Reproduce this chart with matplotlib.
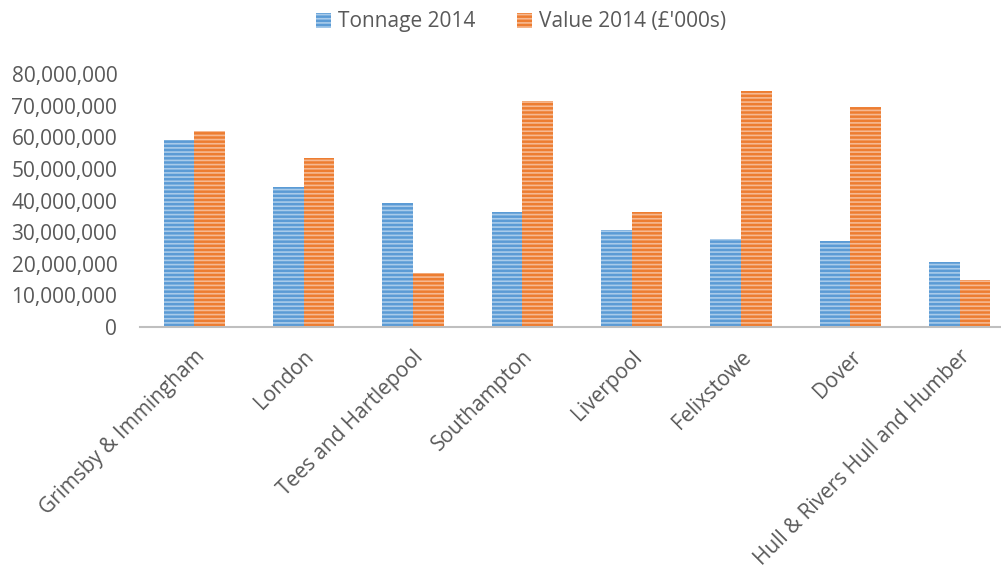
import numpy as np
import matplotlib.pyplot as plt
from matplotlib.ticker import FuncFormatter
from matplotlib.patches import Patch

ports = ['Grimsby & Immingham', 'London', 'Tees and Hartlepool', 'Southampton',
         'Liverpool', 'Felixstowe', 'Dover', 'Hull & Rivers Hull and Humber']
tonnage = [59.1e6, 44.3e6, 39.2e6, 36.4e6, 30.7e6, 27.8e6, 27.2e6, 20.6e6]
value = [62.0e6, 53.4e6, 17.1e6, 71.5e6, 36.4e6, 74.6e6, 69.6e6, 14.9e6]

plt.rcParams['font.family'] = ['Open Sans', 'DejaVu Sans']
plt.rcParams['hatch.linewidth'] = 1.2

blue = '#5B9BD5'
orange = '#ED7D31'
txt = '#595959'

fig = plt.figure(figsize=(10.01, 5.65), dpi=100)
# axes run a bit past the right edge, like the cropped excel chart
ax = fig.add_axes([139.5 / 1001, 238 / 565, 875 / 1001, 253 / 565])

x = np.arange(len(ports))
w = 0.28
ax.bar(x - w / 2, tonnage, w, color=blue, edgecolor='#A9CBEA', hatch='----', linewidth=0)
ax.bar(x + w / 2, value, w, color=orange, edgecolor='#F6B992', hatch='----', linewidth=0)

ax.set_xlim(-0.5, len(ports) - 0.5)
ax.set_ylim(0, 80e6)
ax.set_yticks(np.arange(0, 80e6 + 1, 10e6))
ax.yaxis.set_major_formatter(FuncFormatter(lambda v, p: f'{int(v):,}'))
ax.tick_params(axis='y', length=0, labelsize=15, labelcolor=txt, pad=16)
ax.tick_params(axis='x', length=0, labelsize=15, labelcolor=txt, pad=14)
ax.set_xticks(x)
ax.set_xticklabels(ports, rotation=45, ha='right', rotation_mode='anchor')

for s in ['top', 'right', 'left']:
    ax.spines[s].set_visible(False)
ax.spines['bottom'].set_color('#BFBFBF')
ax.spines['bottom'].set_linewidth(1.5)

handles = [Patch(facecolor=blue, edgecolor='#A9CBEA', hatch='----', linewidth=0, label='Tonnage 2014'),
           Patch(facecolor=orange, edgecolor='#F6B992', hatch='----', linewidth=0, label='Value 2014 (£\'000s)')]
fig.legend(handles=handles, loc='center', bbox_to_anchor=(521 / 1001, 1 - 22 / 565), ncol=2,
           frameon=False, fontsize=15, labelcolor=txt, handlelength=0.7, handleheight=0.7,
           handletextpad=0.35, columnspacing=2.0)

fig.savefig('out.png', dpi=100)
